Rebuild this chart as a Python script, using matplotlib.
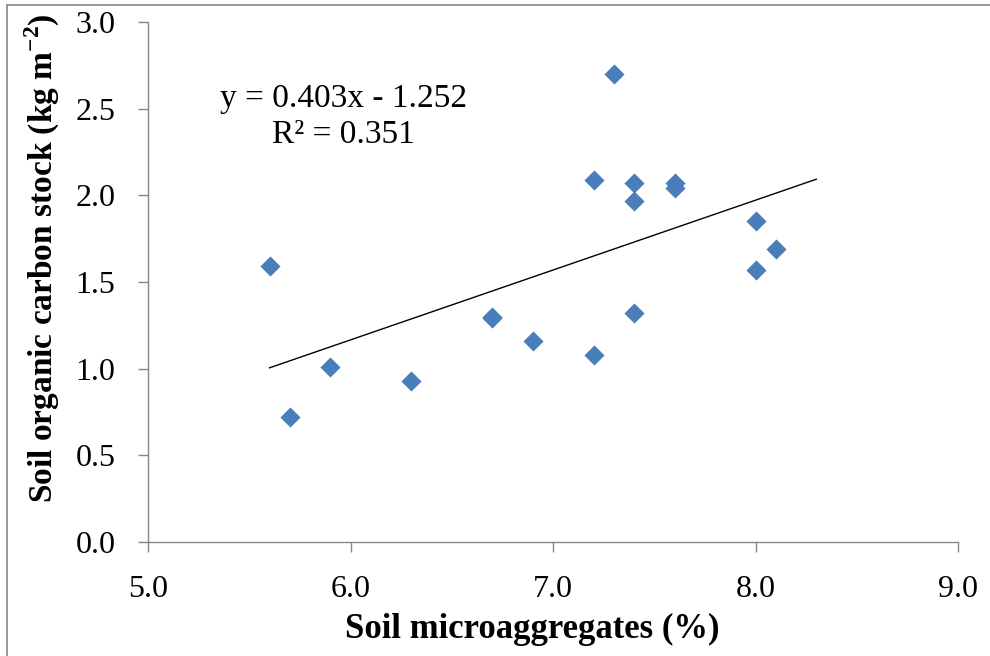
import matplotlib.pyplot as plt
from matplotlib.lines import Line2D
import numpy as np

# soil data
microagg = [5.6, 5.7, 5.9, 6.3, 6.7, 6.7, 6.9, 7.2, 7.2, 7.3,
            7.4, 7.4, 7.4, 7.6, 7.6, 8.0, 8.0, 8.1]
carbon = [1.59, 0.72, 1.01, 0.93, 1.29, 1.30, 1.16, 2.09, 1.08, 2.70,
          2.07, 1.97, 1.32, 2.07, 2.04, 1.85, 1.57, 1.69]

slope = 0.403
intercept = -1.252
r2 = 0.351
trend_x = [5.6, 8.3]

xticks = [5.0, 6.0, 7.0, 8.0, 9.0]
yticks = [0.0, 0.5, 1.0, 1.5, 2.0, 2.5, 3.0]

plt.rcParams['font.family'] = ['Liberation Serif', 'DejaVu Serif']
plt.rcParams['mathtext.fontset'] = 'custom'
plt.rcParams['mathtext.rm'] = 'Liberation Serif'
plt.rcParams['mathtext.bf'] = 'Liberation Serif:bold'

fig = plt.figure(figsize=(9.9, 6.56), dpi=100)
ax = fig.add_axes([148/990, 114/656, 810/990, 520/656])

ax.scatter(microagg, carbon, marker='D', s=105, color='#4A7EBB', zorder=3, linewidths=0)
tx = np.array(trend_x)
ax.plot(tx, slope*tx + intercept, color='black', lw=1.0)

ax.set_xlim(5.0, 9.0)
ax.set_ylim(0.0, 3.0)
ax.set_xticks(xticks)
ax.set_yticks(yticks)
ax.set_xticklabels(['%.1f' % v for v in xticks])
ax.set_yticklabels(['%.1f' % v for v in yticks])

for s in ['top', 'right']:
    ax.spines[s].set_visible(False)
for s in ['left', 'bottom']:
    ax.spines[s].set_color('#868686')
    ax.spines[s].set_linewidth(1.0)
ax.tick_params(axis='both', direction='out', length=7.5, width=1.0,
               color='#868686', labelsize=23, labelcolor='black')
ax.tick_params(axis='x', pad=16)
ax.tick_params(axis='y', pad=16)

fig.text(532/990, 1 - 638/656, 'Soil microaggregates (%)', fontsize=25,
         fontweight='bold', ha='center', va='baseline')
fig.text(42/990, 1 - 258/656, 'Soil organic carbon stock (kg m$^{\\mathbf{-2}}$)',
         fontsize=24, fontweight='bold', rotation=90, ha='center', va='center')

ax.text(0.241, 2.51, 'y = %.3fx - %.3f' % (slope, -intercept),
        transform=ax.get_yaxis_transform(), ha='center', va='baseline', fontsize=24)
ax.text(0.241, 2.30, 'R² = %.3f' % r2,
        transform=ax.get_yaxis_transform(), ha='center', va='baseline', fontsize=24)

# outer frame of the picture (top and left edge only)
fig.add_artist(Line2D([7/990, 1.0], [1 - 4.5/656, 1 - 4.5/656], color='#888888', lw=1.2))
fig.add_artist(Line2D([7/990, 7/990], [0.0, 1 - 4.5/656], color='#888888', lw=1.2))

plt.savefig('out.png', dpi=100)
